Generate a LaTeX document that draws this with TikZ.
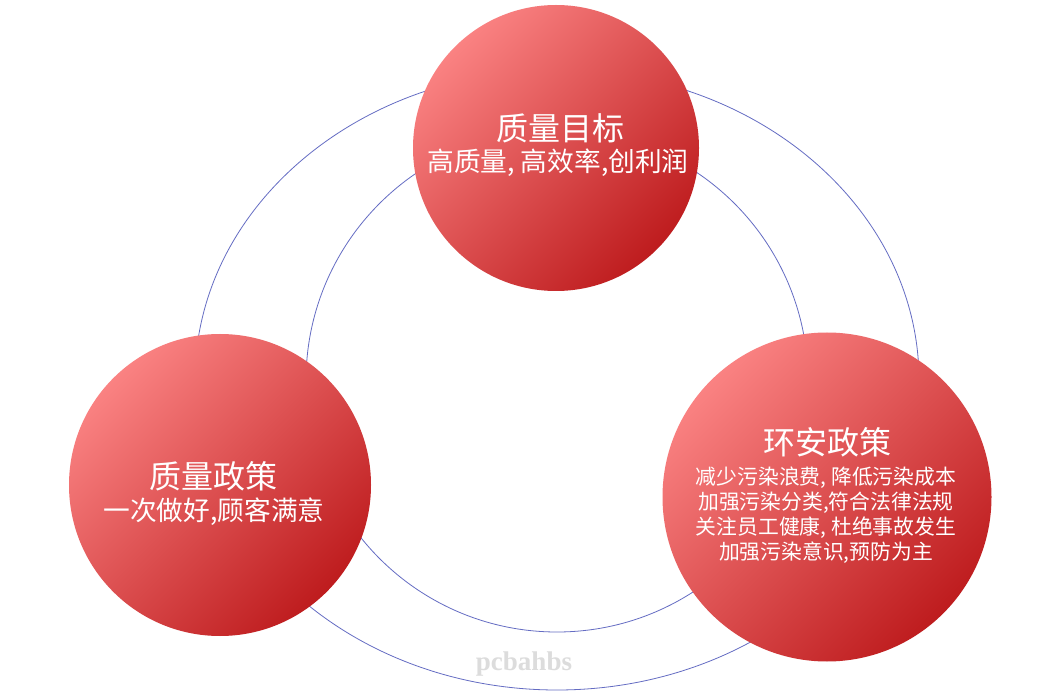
\documentclass[tikz,border=0pt]{standalone}
\usepackage{fontspec}
\setmainfont{Noto Sans CJK SC}
\newfontfamily\wmfont{Liberation Serif}
\definecolor{ringblue}{RGB}{100,108,195}
\definecolor{lightred}{RGB}{250,130,130}
\definecolor{darkred}{RGB}{190,28,30}
\definecolor{wmgray}{RGB}{220,220,220}
\tikzset{
  ring/.style={draw=ringblue, line width=0.8pt},
  bubble/.style={circle, inner sep=0pt, draw=none, shade, top color=lightred, bottom color=darkred, shading angle=45},
  titletext/.style={text=white, font=\fontsize{32}{38}\selectfont, inner sep=0pt},
  subtext/.style={text=white, font=\fontsize{26.7}{32}\selectfont, inner sep=0pt},
  smalltext/.style={text=white, font=\fontsize{20.8}{25}\selectfont, inner sep=0pt, align=center},
}
\begin{document}
\begin{tikzpicture}[x=1pt,y=-1pt]
\useasboundingbox (0,0) rectangle (1050,700);
\fill[white] (0,0) rectangle (1050,700);
% rings
\draw[ring] (557,380) ellipse [x radius=362pt, y radius=310pt];
\draw[ring] (557,381) circle [radius=251pt];
% bubbles
\node[bubble, minimum size=286pt] (goal) at (556,148) {};
\node[bubble, minimum size=302pt] (policy) at (220,485) {};
\node[bubble, minimum size=329pt] (env) at (827,497) {};
% texts
\node[titletext] (goaltitle) at (560,128) {质量目标};
\node[subtext] (goalsub) at (558,163) {高质量, 高效率,创利润};
\node[titletext] (policytitle) at (213,476) {质量政策};
\node[subtext] (policysub) at (214,512) {一次做好,顾客满意};
\node[titletext] (envtitle) at (827,442) {环安政策};
\node[smalltext] (envsub) at (826,515) {减少污染浪费, 降低污染成本\\加强污染分类,符合法律法规\\关注员工健康, 杜绝事故发生\\加强污染意识,预防为主};
\node[text=wmgray, font=\wmfont\bfseries\fontsize{27}{32}\selectfont, inner sep=0pt] (wm) at (524,664) {pcbahbs};
\end{tikzpicture}
\end{document}
